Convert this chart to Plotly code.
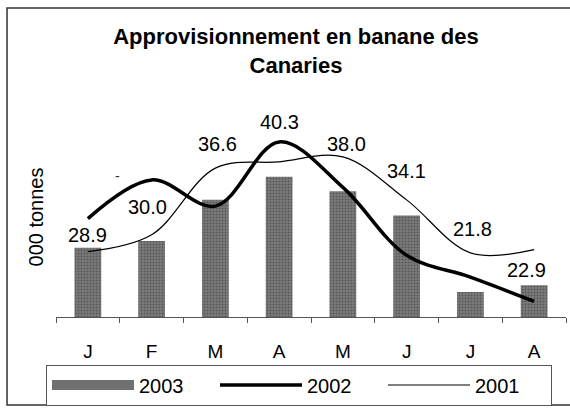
import plotly.graph_objects as go

months = ["J", "F", "M", "A", "M ", "J ", "J  ", "A "]
tick_text = ["J", "F", "M", "A", "M", "J", "J", "A"]
v2003 = [28.9, 30.0, 36.6, 40.3, 38.0, 34.1, 21.8, 22.9]
v2002 = [33.6, 39.8, 35.6, 45.9, 38.6, 27.7, 24.2, 20.3]
v2001 = [28.3, 31.0, 41.7, 42.7, 43.5, 36.6, 28.1, 28.6]
label_text = ["28.9", "30.0", "36.6", "40.3", "38.0", "34.1", "21.8", "22.9"]

# label placement offsets (pixels) relative to bar tops
label_yshift = [13, 34, 56, 55, 47, 44, 63, 15]
label_xshift = [0, -4, 2, 0, 4, 0, 2, -8]

FONT = "Liberation Sans, Arial, sans-serif"
BAR_GRAY = "#6a6a6a"

fig = go.Figure()
fig.add_trace(go.Bar(
    x=months, y=v2003, name="2003", width=0.42, showlegend=False,
    marker=dict(color=BAR_GRAY, line=dict(width=0),
                pattern=dict(shape=".", fgcolor="#2e2e2e", bgcolor="#7c7c7c", size=3, solidity=0.35)),
))
# legend swatch for the bar series (wide grey block like the original)
fig.add_trace(go.Scatter(
    x=[None], y=[None], name="2003", mode="lines",
    line=dict(color="#707070", width=12),
))
fig.add_trace(go.Scatter(
    x=months, y=v2002, name="2002", mode="lines",
    line=dict(color="black", width=3.5, shape="spline", smoothing=1),
))
fig.add_trace(go.Scatter(
    x=months, y=v2001, name="2001", mode="lines",
    line=dict(color="black", width=1.2, shape="spline", smoothing=1),
))

for i, m in enumerate(months):
    fig.add_annotation(x=m, y=v2003[i], text=label_text[i], showarrow=False,
                       xshift=label_xshift[i], yshift=label_yshift[i],
                       font=dict(family=FONT, size=20, color="black"))

# small stray mark
fig.add_annotation(xref="paper", yref="paper", x=0.1118, y=0.755, text="-",
                   showarrow=False, font=dict(family=FONT, size=14, color="#333"))

# outer frame
fig.add_shape(type="rect", xref="paper", yref="paper",
              x0=-0.096, x1=1.03, y0=-0.44, y1=1.545,
              line=dict(color="#333333", width=1.5), layer="below")

fig.update_layout(
    width=570, height=408,
    margin=dict(l=56, r=4, t=117, b=91, autoexpand=False),
    paper_bgcolor="white", plot_bgcolor="white",
    font=dict(family=FONT, color="black"),
    title=dict(text="<b>Approvisionnement en banane des<br>Canaries</b>",
               x=296 / 570, xanchor="center", xref="container",
               y=1 - 44 / 408, yanchor="top", yref="container",
               font=dict(family=FONT, size=22, color="black")),
    showlegend=True,
    legend=dict(orientation="h", xref="container", yref="container",
                x=46 / 570, xanchor="left", y=1 - 385 / 408, yanchor="middle",
                bordercolor="#555555", borderwidth=1, bgcolor="white",
                font=dict(family=FONT, size=20, color="black"),
                entrywidth=71, entrywidthmode="pixels", itemwidth=82,
                traceorder="normal"),
    xaxis=dict(type="category", tickvals=months, ticktext=tick_text,
               tickson="boundaries", ticks="outside", ticklen=5, tickcolor="#555555",
               showline=True, linecolor="#555555", linewidth=1,
               showgrid=False, zeroline=False, range=[-0.5, 7.5],
               tickfont=dict(family=FONT, size=19, color="black"),
               ticklabelstandoff=17),
    yaxis=dict(range=[17.8, 49.9], showticklabels=False, showgrid=False,
               zeroline=False, showline=False, ticks="",
               title=dict(text="000 tonnes", standoff=6,
                          font=dict(family=FONT, size=20, color="black"))),
)

fig.write_html("out.html", config={"displayModeBar": False},
               post_script="document.body.style.margin='0';")
